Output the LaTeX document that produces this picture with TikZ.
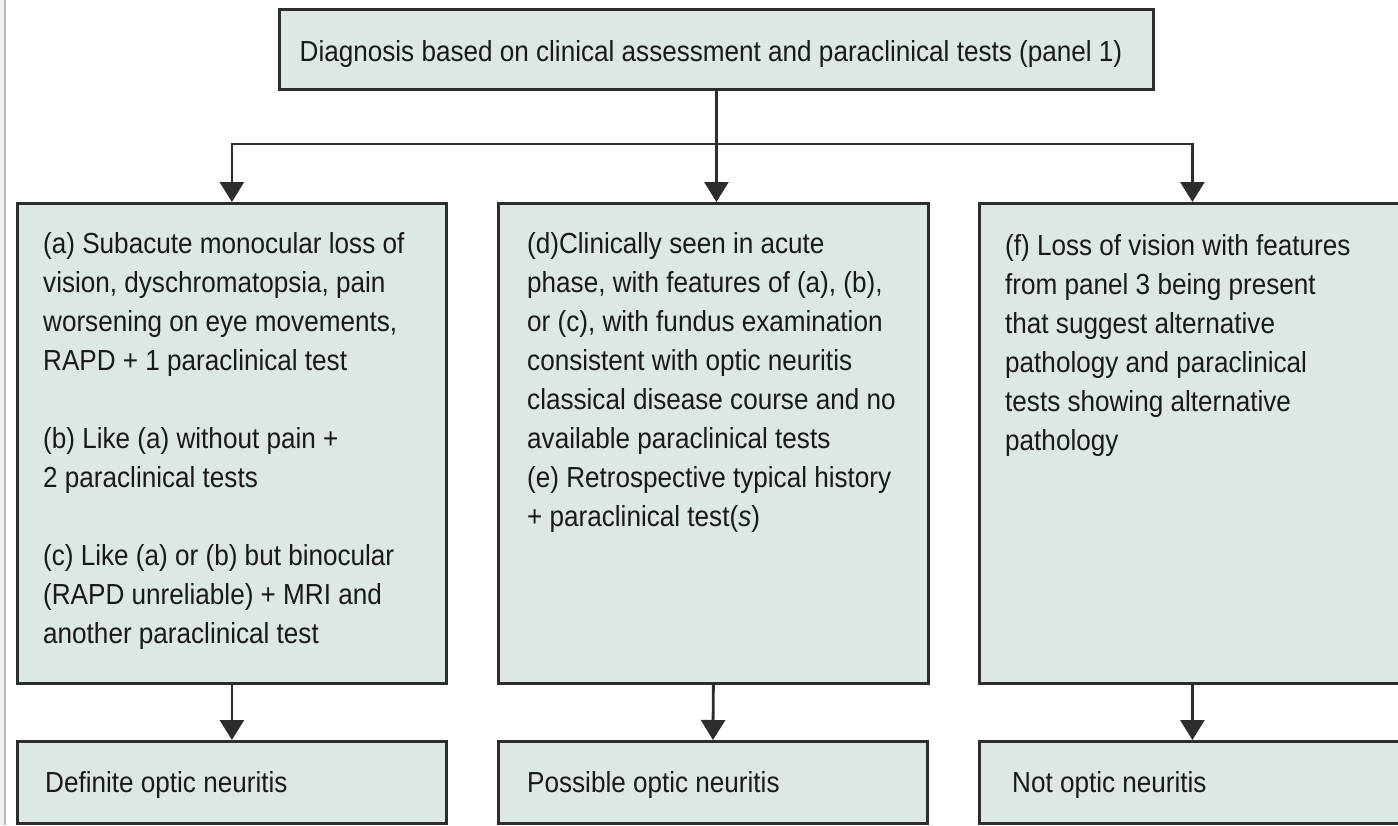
\documentclass[tikz,border=0pt]{standalone}
\usepackage{fontspec}
\setmainfont[FakeStretch=0.9]{Liberation Sans}
\usetikzlibrary{arrows.meta}
\definecolor{boxfill}{RGB}{220,232,225}
\definecolor{edge}{RGB}{45,45,45}
\definecolor{ink}{RGB}{25,25,25}
\begin{document}
\begin{tikzpicture}[x=1pt,y=-1pt,
  box/.style={draw=edge, fill=boxfill, line width=2.8pt, inner sep=0pt, anchor=north west},
  txt/.style={inner sep=0pt, text=ink, font=\fontsize{29}{39}\selectfont, align=left, anchor=north west},
  lbl/.style={inner sep=0pt, text=ink, font=\fontsize{29}{39}\selectfont, anchor=base west},
  conn/.style={draw=edge, line width=2.8pt},
  arr/.style={conn, -{Triangle[width=24pt,length=20pt]}}]
\useasboundingbox (0,0) rectangle (1398,825);
\clip (0,0) rectangle (1398,825);
\fill[gray!12] (0,0) rectangle (4,825);
\draw[gray!55, line width=1.5pt] (5,0) -- (5,825);

% boxes
\node[box, minimum width=874pt, minimum height=80pt] (top) at (278,8) {};
\node[box, minimum width=429pt, minimum height=480pt] (a) at (16,202) {};
\node[box, minimum width=430pt, minimum height=480pt] (d) at (497,202) {};
\node[box, minimum width=426pt, minimum height=480pt] (f) at (978,202) {};
\node[box, minimum width=429pt, minimum height=82pt] (A) at (16,740) {};
\node[box, minimum width=429pt, minimum height=82pt] (D) at (497,740) {};
\node[box, minimum width=426pt, minimum height=82pt] (F) at (978,740) {};

% texts
\node[inner sep=0pt, text=ink, font=\fontsize{29}{39}\selectfont, anchor=base] (ttop) at (711,61)
  {Diagnosis based on clinical assessment and paraclinical tests (panel 1)};
\node[txt] (ta) at (43,232) {(a) Subacute monocular loss of\\
vision, dyschromatopsia, pain\\
worsening on eye movements,\\
RAPD + 1 paraclinical test\\[39pt]
(b) Like (a) without pain +\\
2 paraclinical tests\\[39pt]
(c) Like (a) or (b) but binocular\\
(RAPD unreliable) + MRI and\\
another paraclinical test};
\node[txt] (td) at (527,232) {(d)Clinically seen in acute\\
phase, with features of (a), (b),\\
or (c), with fundus examination\\
consistent with optic neuritis\\
classical disease course and no\\
available paraclinical tests\\
(e) Retrospective typical history\\
+ paraclinical test(\textit{s})};
\node[txt] (tf) at (1005,234) {(f) Loss of vision with features\\
from panel 3 being present\\
that suggest alternative\\
pathology and paraclinical\\
tests showing alternative\\
pathology};
\node[lbl] (tA) at (45,792) {Definite optic neuritis};
\node[lbl] (tD) at (527,792) {Possible optic neuritis};
\node[lbl] (tF) at (1012,792) {Not optic neuritis};

% connectors
\coordinate (lvl) at (0,144);
\draw[arr] (top.south) -- (top.south |- d.north);
\draw[arr] (top.south |- lvl) -| (a.north);
\draw[arr] (top.south |- lvl) -| (f.north);
\draw[arr] (a.south) -- (A.north);
\draw[arr] (d.south) -- (D.north);
\draw[arr] (f.south) -- (F.north);
\end{tikzpicture}
\end{document}
